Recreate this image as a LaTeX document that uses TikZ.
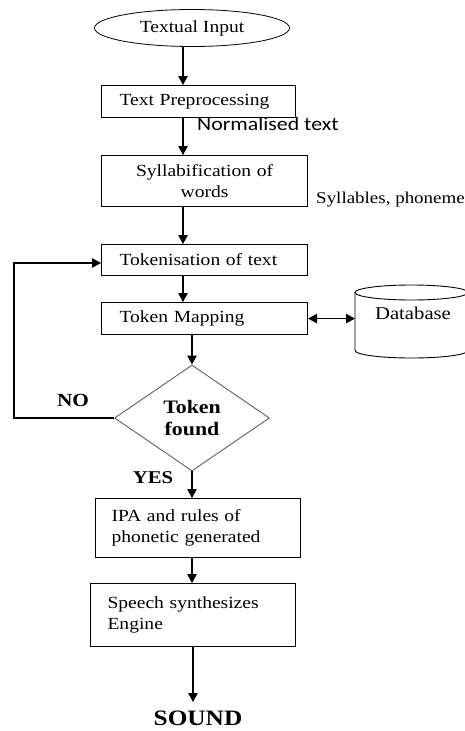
\documentclass[tikz,border=0pt]{standalone}
\usepackage{fontspec}
\setmainfont[FakeStretch=1.15]{Liberation Serif}
\newfontfamily\calfont[FakeStretch=1.15]{Carlito}
\usetikzlibrary{arrows.meta,shapes.geometric}
\begin{document}
\begin{tikzpicture}[x=1pt,y=-1pt,
  box/.style={draw, line width=1.1pt, anchor=north west, inner xsep=18pt, inner ysep=0pt, align=left, font=\fontsize{17}{21.5}\selectfont},
  arr/.style={-{Triangle[length=9pt,width=9.5pt]}, line width=1.1pt},
  lbl/.style={inner sep=0pt, font=\bfseries\fontsize{18.5}{20}\selectfont}]
\useasboundingbox (0,0) rectangle (465,731);
% nodes
\node[draw, ellipse, minimum width=195pt, minimum height=37pt, inner sep=0pt, line width=0.8pt, font=\fontsize{17}{20}\selectfont] (ell) at (192,28) {Textual Input};
\node[box, text width=158pt, minimum height=32pt] (pre) at (101,85) {Text Preprocessing};
\node[box, text width=170pt, minimum height=51pt, align=center] (syl) at (101,155) {Syllabification of\\words};
\node[box, text width=170pt, minimum height=31pt] (tok) at (101,244) {Tokenisation of text};
\node[box, text width=170pt, minimum height=32pt] (map) at (101,302) {Token Mapping};
\node[diamond, draw=gray!75!black, line width=0.9pt, minimum width=155pt, minimum height=106pt, inner sep=0pt, align=center, font=\bfseries\fontsize{19}{22}\selectfont] (dia) at (192,418) {Token\\found};
\node[box, inner xsep=16pt, text width=173pt, minimum height=59pt] (ipa) at (95,498) {IPA and rules of\\phonetic generated};
\node[box, inner xsep=17pt, text width=171pt, minimum height=63pt] (spe) at (90,583) {Speech synthesizes\\Engine};
\node[minimum width=113pt, minimum height=73pt, inner sep=0pt, anchor=north west] (db) at (355,285) {};
\draw[line width=0.9pt] (411.5,292.5) ellipse [x radius=56.5pt, y radius=7.5pt];
\draw[line width=0.9pt] (355,292.5) -- (355,350.5) arc[start angle=180, end angle=360, x radius=56.5pt, y radius=7.5pt] -- (468,292.5);
\node[font=\fontsize{18}{20}\selectfont] (dbt) at (413,313) {Database};
% labels
\node[anchor=west, inner sep=0pt, font=\calfont\fontsize{19}{22}\selectfont] (nt) at (197,124) {Normalised text};
\node[anchor=west, inner sep=0pt, font=\fontsize{16.5}{20}\selectfont] (syls) at (316,200) {Syllables, phoneme};
\node[lbl] (no) at (73,400) {NO};
\node[lbl, font=\bfseries\fontsize{18}{20}\selectfont] (yes) at (153,478) {YES};
\node[lbl, anchor=base, font=\bfseries\fontsize{22}{24}\selectfont] (snd) at (198,725) {SOUND};
% helper coordinates
\coordinate (xa) at (183,0);
\coordinate (xb) at (192,0);
\coordinate (xc) at (193,0);
\coordinate (lp) at (14,263);
\coordinate (sndtop) at (193,702);
% connectors
\draw[arr] (ell.south -| xa) -- (pre.north -| xa);
\draw[arr] (pre.south -| xa) -- (syl.north -| xa);
\draw[arr] (syl.south -| xa) -- (tok.north -| xa);
\draw[arr] (tok.south -| xa) -- (map.north -| xa);
\draw[arr] (map.south -| xb) -- (dia.north);
\draw[{Triangle[length=9pt,width=9.5pt]}-{Triangle[length=9pt,width=9.5pt]}, line width=1.1pt] (map.east) -- (map.east -| db.west);
\draw[arr] (dia.west) -- (dia.west -| lp) -- (lp) -- (lp -| tok.west);
\draw[arr] (dia.south) -- (dia.south |- ipa.north);
\draw[arr] (ipa.south -| xb) -- (spe.north -| xb);
\draw[arr] (spe.south -| xc) -- (sndtop);
\end{tikzpicture}
\end{document}
